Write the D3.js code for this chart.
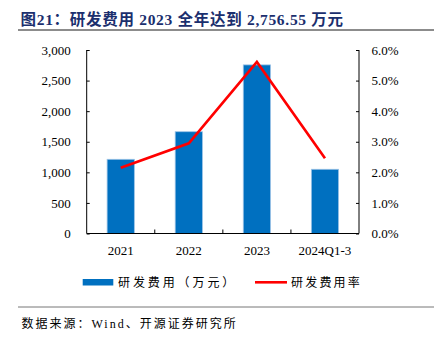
<!DOCTYPE html>
<html>
<head>
<meta charset="utf-8">
<script src="https://cdn.jsdelivr.net/npm/d3@7/dist/d3.min.js"></script>
<style>
  html, body { margin: 0; padding: 0; background: #fff; }
  svg { display: block; }
</style>
</head>
<body>
<svg id="chart" width="434" height="339"></svg>
<script>
// Data
const categories = ["2021", "2022", "2023", "2024Q1-3"];
const rdExpense = [1213, 1664, 2756.55, 1050];      // 研发费用（万元）
const rdRate = [2.15, 2.95, 5.61, 2.46];            // 研发费用率 (%)
const leftTicks = [0, 500, 1000, 1500, 2000, 2500, 3000];
const rightTicks = [0, 1, 2, 3, 4, 5, 6];
const seriesNames = ["研发费用（万元）", "研发费用率"];
const titleText = "图21：研发费用 2023 全年达到 2,756.55 万元";
const sourceText = "数据来源：Wind、开源证券研究所";

const svg = d3.select("#chart");
const serif = "'Liberation Serif', 'Times New Roman', 'Noto Sans CJK SC', serif";
const cjk = "'Liberation Serif', 'Noto Sans CJK SC', sans-serif";

const plot = { left: 86.7, right: 359, top: 50, bottom: 233.5 };

const x = d3.scaleBand().domain(categories).range([plot.left, plot.right]).paddingInner(0.6).paddingOuter(0.3);
const xOuter = d3.scaleBand().domain(categories).range([plot.left, plot.right]);
const yL = d3.scaleLinear().domain([0, 3000]).range([plot.bottom, plot.top]);
const yR = d3.scaleLinear().domain([0, 6]).range([plot.bottom, plot.top]);

// Title
svg.append("text")
  .attr("x", 20.5).attr("y", 25)
  .attr("fill", "#1b2f6e")
  .attr("font-family", cjk)
  .attr("font-weight", "bold")
  .attr("font-size", 15.5)
  .attr("letter-spacing", 0.7)
  .text(titleText);
svg.append("line")
  .attr("x1", 18).attr("x2", 434).attr("y1", 30).attr("y2", 30)
  .attr("stroke", "#8c8c8c").attr("stroke-width", 2);

// Bars
svg.append("g").selectAll("rect")
  .data(rdExpense)
  .join("rect")
  .attr("x", (d, i) => x(categories[i]))
  .attr("width", x.bandwidth())
  .attr("y", d => yL(d))
  .attr("height", d => yL(0) - yL(d))
  .attr("fill", "#0070c0")
  .attr("stroke", "#9cc3e6")
  .attr("stroke-width", 0.8);

// Left axis
const axL = d3.axisLeft(yL).tickValues(leftTicks).tickSize(-3).tickPadding(16)
  .tickFormat(d3.format(","));
const gL = svg.append("g").attr("transform", `translate(${plot.left},0)`).call(axL);

// Right axis
const axR = d3.axisRight(yR).tickValues(rightTicks).tickSize(-3).tickPadding(12.5)
  .tickFormat(d => d.toFixed(1) + "%");
const gR = svg.append("g").attr("transform", `translate(${plot.right},0)`).call(axR);

// Bottom axis: ticks sit on category boundaries
const gB = svg.append("g").attr("transform", `translate(0,${plot.bottom})`);
gB.append("line").attr("x1", plot.left).attr("x2", plot.right).attr("stroke", "#000").attr("stroke-width", 1);
gB.selectAll("line.tk")
  .data(categories.slice(1))
  .join("line").attr("class", "tk")
  .attr("x1", d => xOuter(d)).attr("x2", d => xOuter(d))
  .attr("y1", 0).attr("y2", -4)
  .attr("stroke", "#000");
gB.selectAll("text")
  .data(categories)
  .join("text")
  .attr("x", d => xOuter(d) + xOuter.bandwidth() / 2)
  .attr("y", 21.5)
  .attr("text-anchor", "middle")
  .attr("font-family", serif)
  .attr("font-size", 13)
  .attr("fill", "#000")
  .text(d => d);

[gL, gR].forEach(g => {
  g.select(".domain").attr("stroke", "#000").attr("d", `M0,${plot.top}V${plot.bottom}`);
  g.selectAll("text").attr("font-family", serif).attr("font-size", 13).attr("fill", "#000");
  g.selectAll(".tick line").attr("stroke", "#000");
});

// Rate line
const line = d3.line()
  .x((d, i) => xOuter(categories[i]) + xOuter.bandwidth() / 2)
  .y(d => yR(d));
svg.append("path")
  .datum(rdRate)
  .attr("d", line)
  .attr("fill", "none")
  .attr("stroke", "#ff0000")
  .attr("stroke-width", 2.6);

// Legend
const lg = svg.append("g");
lg.append("rect").attr("x", 82.7).attr("y", 279).attr("width", 30.6).attr("height", 6.5).attr("fill", "#0070c0");
lg.append("text").attr("x", 118).attr("y", 287).attr("font-family", cjk).attr("font-size", 12)
  .attr("letter-spacing", 2.9).attr("fill", "#000").text(seriesNames[0]);
lg.append("line").attr("x1", 255).attr("x2", 287).attr("y1", 282.3).attr("y2", 282.3)
  .attr("stroke", "#ff0000").attr("stroke-width", 2.6);
lg.append("text").attr("x", 291).attr("y", 287).attr("font-family", cjk).attr("font-size", 12)
  .attr("letter-spacing", 2.2).attr("fill", "#000").text(seriesNames[1]);

// Source note
svg.append("line")
  .attr("x1", 18).attr("x2", 434).attr("y1", 307).attr("y2", 307)
  .attr("stroke", "#777").attr("stroke-width", 1);
svg.append("text")
  .attr("x", 21.5).attr("y", 328)
  .attr("font-family", cjk).attr("font-size", 12).attr("fill", "#000")
  .attr("letter-spacing", 2)
  .text(sourceText);
</script>
</body>
</html>
